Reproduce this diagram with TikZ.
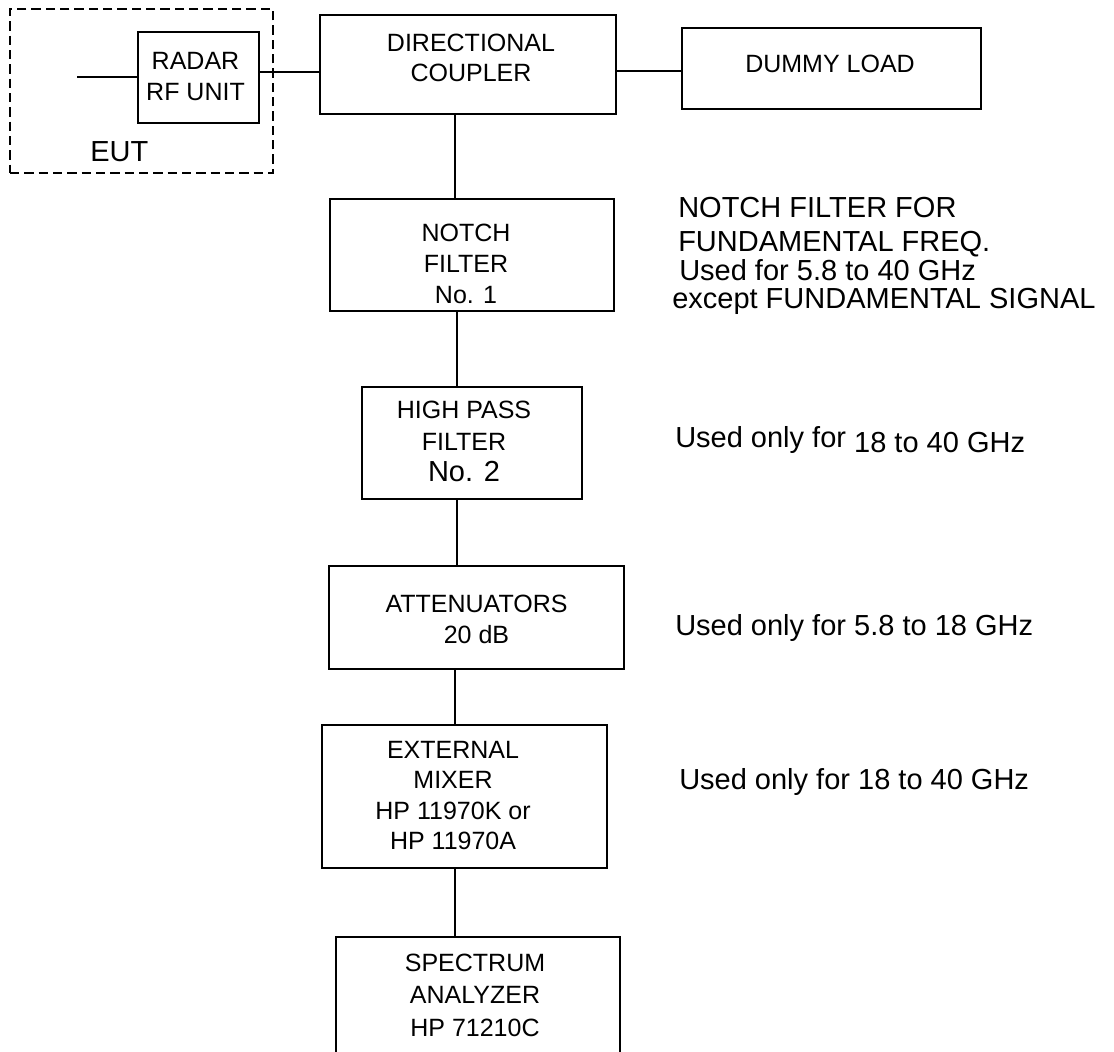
\documentclass[tikz,border=0pt]{standalone}
\usepackage{fontspec}
\setmainfont{Liberation Sans}
\begin{document}
\begin{tikzpicture}[x=0.75pt,y=-0.75pt,
  box/.style={draw, line width=1.5pt, inner sep=0pt},
  lab/.style={align=center, inner sep=0pt, font=\fontsize{18.75pt}{22.75pt}\selectfont},
  wire/.style={line width=1.5pt},
  rtext/.style={anchor=base west, inner sep=0pt, font=\fontsize{21.75pt}{26pt}\selectfont},
  eutframe/.style={draw, line width=2.2pt, dash pattern=on 7pt off 3.75pt, inner sep=0pt}]
\useasboundingbox (0,0) rectangle (1114,1051);
\clip (0,0) rectangle (1114,1051);

% EUT frame
\node[eutframe, minimum width=197.25pt, minimum height=123pt] (eutbox) at (141.5,91) {};
\node[rtext] (eut) at (90,161.4) {EUT};

% boxes
\node[box, minimum width=90.75pt, minimum height=68.25pt,
  label={[lab, xshift=-2.25pt, yshift=0.75pt]center:{RADAR\\RF UNIT}}] (radar) at (198.5,77.5) {};
\node[box, minimum width=222pt, minimum height=74.25pt,
  label={[lab, xshift=2.25pt, yshift=4.9pt]center:{DIRECTIONAL\\COUPLER}}] (dc) at (468,64.5) {};
\node[box, minimum width=224.25pt, minimum height=60.75pt,
  label={[lab, xshift=-1.1pt, yshift=3.4pt]center:{DUMMY LOAD}}] (dummy) at (831.5,68.5) {};
\node[box, minimum width=213pt, minimum height=84pt,
  label={[lab, font=\fontsize{18.75pt}{23.5pt}\selectfont, xshift=-4.5pt, yshift=-6.75pt]center:{NOTCH\\FILTER\\No. 1}}] (notch) at (472,255) {};
\node[box, minimum width=165pt, minimum height=84pt,
  label={[lab, font=\fontsize{18.75pt}{23.6pt}\selectfont, xshift=-6pt, yshift=1.1pt]center:{HIGH PASS\\FILTER\\{\fontsize{21.75pt}{23.6pt}\selectfont No. 2}}}] (hpf) at (472,443) {};
\node[box, minimum width=221.25pt, minimum height=77.25pt,
  label={[lab, font=\fontsize{18.75pt}{23.25pt}\selectfont, xshift=0pt, yshift=-1.5pt]center:{ATTENUATORS\\20 dB}}] (att) at (476.5,617.5) {};
\node[box, minimum width=213.75pt, minimum height=107.25pt,
  label={[lab, xshift=-8.6pt, yshift=0.75pt]center:{EXTERNAL\\MIXER\\HP 11970K or\\HP 11970A}}] (mixer) at (464.5,796.5) {};
\node[box, minimum width=213pt, minimum height=90pt,
  label={[lab, font=\fontsize{18.75pt}{24.4pt}\selectfont, xshift=-2.25pt, yshift=1.5pt]center:{SPECTRUM\\ANALYZER\\HP 71210C}}] (spec) at (478,997) {};

% connectors
\coordinate (feed) at (77,77);
\draw[wire] (feed) -- (radar.west |- feed);
\draw[wire] (radar.east |- 0,72) -- (dc.west |- 0,72);
\draw[wire] (dc.east |- 0,71) -- (dummy.west |- 0,71);
\draw[wire] (dc.south -| 455,0) -- (notch.north -| 455,0);
\draw[wire] (notch.south -| 457,0) -- (hpf.north -| 457,0);
\draw[wire] (hpf.south -| 457,0) -- (att.north -| 457,0);
\draw[wire] (att.south -| 455,0) -- (mixer.north -| 455,0);
\draw[wire] (mixer.south -| 455,0) -- (spec.north -| 455,0);

% notes
\node[rtext] (n1) at (678,217.4) {NOTCH FILTER FOR};
\node[rtext] (n2) at (678,251.4) {FUNDAMENTAL FREQ.};
\node[rtext] (n3) at (679,280.4) {Used for 5.8 to 40 GHz};
\node[rtext] (n4) at (672,308.4) {except FUNDAMENTAL SIGNAL};
\node[rtext] (n5) at (675,447.4) {Used only for \raisebox{-3.75pt}{18 to 40 GHz}};
\node[rtext] (n6) at (675,635.4) {Used only for 5.8 to 18 GHz};
\node[rtext] (n7) at (679,789.4) {Used only for 18 to 40 GHz};
\end{tikzpicture}
\end{document}
